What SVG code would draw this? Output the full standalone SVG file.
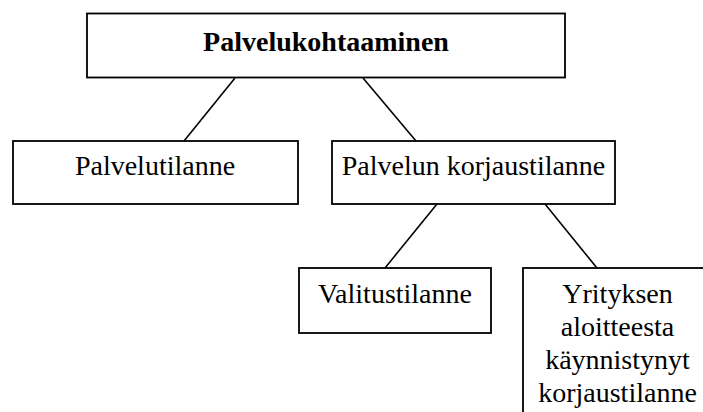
<svg xmlns="http://www.w3.org/2000/svg" width="703" height="412" viewBox="0 0 703 412">
<style>
.box{fill:#fff;stroke:#000;stroke-width:1.8}
.t{font-family:"Liberation Serif","Times New Roman",serif;font-size:28px;fill:#000;text-anchor:middle}
.b{font-weight:bold}
.c line{stroke:#000;stroke-width:1.6}
</style>
<rect width="703" height="412" fill="#fff"/>
<g class="c" id="connectors">
<line x1="235" y1="78" x2="184" y2="141"/>
<line x1="363" y1="78" x2="416" y2="141"/>
<line x1="437" y1="204" x2="385" y2="268"/>
<line x1="545" y1="204" x2="597" y2="268"/>
</g>
<g id="n-palvelukohtaaminen">
<rect class="box" x="87" y="13.5" width="478" height="64"/>
<text class="t b" x="326" y="51">Palvelukohtaaminen</text>
</g>
<g id="n-palvelutilanne">
<rect class="box" x="13" y="141" width="285" height="63"/>
<text class="t" x="155" y="175">Palvelutilanne</text>
</g>
<g id="n-korjaustilanne">
<rect class="box" x="332" y="141" width="283" height="63"/>
<text class="t" x="473.5" y="175">Palvelun korjaustilanne</text>
</g>
<g id="n-valitustilanne">
<rect class="box" x="299" y="268" width="192" height="65"/>
<text class="t" x="395" y="303">Valitustilanne</text>
</g>
<g id="n-yrityksen">
<rect class="box" x="523" y="268" width="190" height="160"/>
<text class="t" x="617.5" y="303">Yrityksen</text>
<text class="t" x="617.5" y="336">aloitteesta</text>
<text class="t" x="617.5" y="369">käynnistynyt</text>
<text class="t" x="617.5" y="402">korjaustilanne</text>
</g>
</svg>
